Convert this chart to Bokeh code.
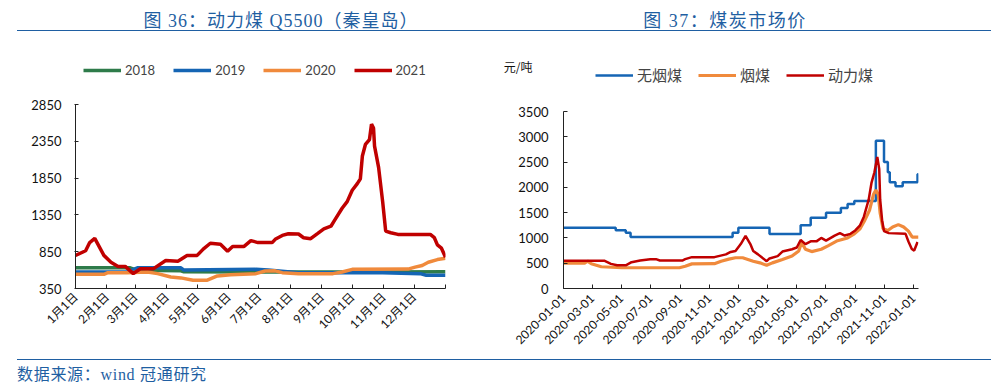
import math
import pandas as pd
from bokeh.plotting import figure
from bokeh.layouts import row, column
from bokeh.models import (Range1d, FixedTicker, Legend, LegendItem, LinearAxis, Div)
from bokeh.embed import file_html
from bokeh.resources import INLINE

# ---------------- data: 图36 动力煤 Q5500（秦皇岛）, x = day of year ----------------
month_ticks = [0, 31, 59, 90, 120, 151, 181, 212, 243, 273, 304, 334, 365]
month_labels = ["1月1日", "2月1日", "3月1日", "4月1日", "5月1日", "6月1日", "7月1日",
                "8月1日", "9月1日", "10月1日", "11月1日", "12月1日", ""]

day_2018 = [0, 54, 61, 104, 107, 182, 300, 365]
val_2018 = [631, 631, 597, 590, 576, 574, 575, 576]

day_2019 = [0, 51, 61, 104, 107, 178, 190, 220, 303, 340, 346, 365]
val_2019 = [574, 574, 631, 631, 600, 610, 600, 565, 565, 552, 530, 530]

day_2020 = [0, 28, 32, 51, 71, 81, 94, 104, 116, 130, 140, 153, 178, 187, 197, 204,
            220, 254, 263, 273, 328, 335, 342, 348, 357, 365]
val_2020 = [543, 543, 565, 565, 574, 552, 507, 494, 463, 463, 521, 537, 552, 587, 590, 565,
            552, 552, 574, 610, 614, 640, 663, 707, 743, 760]

day_2021 = [0, 10, 14, 19, 28, 35, 42, 49, 57, 64, 77, 89, 101, 110, 120, 126, 133, 143,
            150, 155, 166, 173, 180, 194, 197, 204, 210, 220, 225, 232, 239, 245, 252, 256,
            263, 268, 273, 278, 281, 283, 286, 290, 292, 294, 295, 299, 303, 306, 311, 318,
            350, 354, 357, 361, 365]
val_2021 = [800, 863, 974, 1030, 800, 707, 650, 650, 552, 618, 620, 730, 720, 797, 800, 885,
            965, 950, 855, 920, 920, 1000, 974, 974, 1018, 1071, 1094, 1090, 1040, 1027, 1098,
            1160, 1196, 1285, 1440, 1530, 1685, 1775, 1840, 2150, 2307, 2374, 2583, 2530, 2285,
            1996, 1530, 1130, 1107, 1085, 1085, 1040, 943, 898, 774]

y1_ticks = [350, 850, 1350, 1850, 2350, 2850]

# ---------------- data: 图37 煤炭市场价 ----------------
anth_dates = ["2020-01-01", "2020-04-19", "2020-05-10", "2020-05-20", "2020-12-19",
              "2020-12-31", "2021-03-06", "2021-05-10", "2021-05-31", "2021-07-02",
              "2021-08-02", "2021-08-16", "2021-08-30", "2021-10-14", "2021-10-31",
              "2021-11-08", "2021-11-12", "2021-11-24", "2021-12-09", "2022-01-09",
              "2022-01-11"]
anth_vals = [1200, 1150, 1100, 1020, 1100, 1200, 1080, 1250, 1400, 1500, 1590, 1670, 1730,
             2920, 2500, 2300, 2100, 2020, 2100, 2260, 2260]

bit_dates = ["2020-01-01", "2020-02-14", "2020-02-20", "2020-02-28", "2020-03-20",
             "2020-05-02", "2020-08-30", "2020-09-11", "2020-09-25", "2020-11-11",
             "2020-11-25", "2020-12-11", "2020-12-25", "2021-01-09", "2021-01-31",
             "2021-02-14", "2021-02-28", "2021-03-12", "2021-04-02", "2021-04-22",
             "2021-05-06", "2021-05-12", "2021-05-20", "2021-06-02", "2021-06-22",
             "2021-07-06", "2021-07-26", "2021-08-16", "2021-08-30", "2021-09-11",
             "2021-09-21", "2021-10-01", "2021-10-09", "2021-10-14", "2021-10-19",
             "2021-10-23", "2021-10-29", "2021-11-08", "2021-11-18", "2021-11-30",
             "2021-12-11", "2021-12-21", "2021-12-29", "2022-01-11"]
bit_vals = [500, 500, 540, 490, 430, 410, 410, 440, 487, 490, 540, 580, 608, 608, 540, 507,
            459, 507, 574, 641, 742, 912, 777, 730, 777, 844, 945, 1000, 1081, 1182, 1351,
            1553, 1858, 1950, 1858, 1487, 1182, 1148, 1216, 1263, 1216, 1135, 1014, 1014]

steam_dates = ["2020-01-01", "2020-03-26", "2020-04-09", "2020-04-22", "2020-05-10",
               "2020-05-22", "2020-06-09", "2020-06-30", "2020-07-12", "2020-07-20",
               "2020-09-05", "2020-09-11", "2020-09-25", "2020-11-11", "2020-12-05",
               "2020-12-15", "2020-12-25", "2021-01-05", "2021-01-15", "2021-01-25",
               "2021-01-31", "2021-02-10", "2021-02-28", "2021-03-06", "2021-03-23",
               "2021-04-02", "2021-04-22", "2021-05-02", "2021-05-10", "2021-05-20",
               "2021-05-31", "2021-06-12", "2021-06-22", "2021-07-02", "2021-07-20",
               "2021-07-31", "2021-08-10", "2021-08-22", "2021-09-01", "2021-09-11",
               "2021-09-19", "2021-09-29", "2021-10-05", "2021-10-11", "2021-10-17",
               "2021-10-21", "2021-10-23", "2021-10-27", "2021-10-31", "2021-11-10",
               "2021-12-15", "2021-12-21", "2021-12-28", "2022-01-02", "2022-01-09"]
steam_vals = [550, 550, 487, 459, 459, 520, 553, 580, 580, 553, 553, 580, 620, 620, 675,
              722, 742, 878, 1040, 878, 742, 675, 540, 594, 641, 730, 777, 811, 959, 878,
              932, 932, 1000, 946, 1047, 1095, 1047, 1081, 1148, 1250, 1420, 1756, 2095,
              2298, 2602, 2365, 1756, 1351, 1135, 1095, 1081, 930, 780, 750, 920]

date_ticks = ["2020-01-01", "2020-03-01", "2020-05-01", "2020-07-01", "2020-09-01",
              "2020-11-01", "2021-01-01", "2021-03-01", "2021-05-01", "2021-07-01",
              "2021-09-01", "2021-11-01", "2022-01-01"]
y2_ticks = [0, 500, 1000, 1500, 2000, 2500, 3000, 3500]
unit_label = "元/吨"

# ---------------- styles / geometry ----------------
BLUE_T = "#1F5FA2"
C_GREEN = "#2E7B4A"
C_BLUE = "#1565B4"
C_ORANGE = "#F08A3C"
C_RED = "#C00000"
TICK_FONT = "Lato, Noto Sans CJK SC"
CJK_FONT = "Noto Sans CJK SC"
TITLE_CSS = "font-family:'Liberation Serif','Noto Sans CJK SC',serif;color:%s;" % BLUE_T

FIG_H = 327          # both chart figures (row aligns their borders)
TOP_B = 18           # frame top at 50 px on the page (legend sits inside the frame)
BOT_B = 71           # frame bottom (x axis) at 288 px on the page
FRAME_TOP, FRAME_BOT = 32 + TOP_B, 32 + FIG_H - BOT_B


def top_value(v_lo, v_hi, px_hi):
    """value at the frame top so that v_hi sits at page pixel px_hi"""
    per_px = (v_hi - v_lo) / (FRAME_BOT - px_hi)
    return v_hi + (px_hi - FRAME_TOP) * per_px


def style_axes(p, tick_in_y, tick_out_y, y_standoff, x_standoff):
    p.outline_line_color = None
    p.grid.visible = False
    p.border_fill_color = "white"
    p.background_fill_color = "white"
    for ax in (p.xaxis[0], p.yaxis[0]):
        ax.axis_line_color = "#222222"
        ax.major_tick_line_color = "#222222"
        ax.minor_tick_line_color = None
        ax.major_label_text_font = TICK_FONT
        ax.major_label_text_font_size = "13px"
        ax.major_label_text_color = "#111111"
    p.yaxis[0].major_tick_in = tick_in_y
    p.yaxis[0].major_tick_out = tick_out_y
    p.yaxis[0].major_label_standoff = y_standoff
    p.xaxis[0].major_tick_in = 4
    p.xaxis[0].major_tick_out = 0
    p.xaxis[0].major_label_standoff = x_standoff
    p.xaxis[0].major_label_orientation = math.pi / 4
    p.xaxis[0].major_label_text_font_size = "12px"


def header_div(width, line_left, line_width, title, center_x, spacing):
    html = (
        '<div style="position:relative;width:%dpx;height:32px;">'
        '<div style="position:absolute;left:%dpx;top:30px;width:%dpx;height:1px;background:%s;"></div>'
        '<div style="position:absolute;left:%dpx;top:11px;transform:translateX(-50%%);white-space:nowrap;'
        'font-size:18px;line-height:20px;letter-spacing:%.1fpx;%s">%s</div></div>'
        % (width, line_left, line_width, BLUE_T, center_x, spacing, TITLE_CSS, title))
    return Div(text=html, width=width, height=32, margin=0)


def footer_div(width, line_left, line_width, text):
    html = (
        '<div style="position:relative;width:%dpx;height:28px;">'
        '<div style="position:absolute;left:%dpx;top:0px;width:%dpx;height:1px;background:%s;"></div>'
        '<div style="position:absolute;left:%dpx;top:7px;white-space:nowrap;font-size:16px;'
        'line-height:18px;letter-spacing:0.7px;%s">%s</div></div>'
        % (width, line_left, line_width, BLUE_T, line_left, TITLE_CSS, text))
    return Div(text=html, width=width, height=28, margin=0)


# ---------------- left chart ----------------
p1 = figure(width=500, height=FIG_H, title=None, x_range=Range1d(0, 365),
            y_range=Range1d(350, top_value(350, 2850, 104)),
            output_backend="svg", toolbar_location=None,
            min_border_left=75, min_border_right=55, min_border_top=TOP_B, min_border_bottom=BOT_B)
r18 = p1.line(day_2018, val_2018, line_color=C_GREEN, line_width=3.5)
r19 = p1.line(day_2019, val_2019, line_color=C_BLUE, line_width=3.5)
r20 = p1.line(day_2020, val_2020, line_color=C_ORANGE, line_width=3.5)
r21 = p1.line(day_2021, val_2021, line_color=C_RED, line_width=3.5)
style_axes(p1, 3, 1, 13, 6)
p1.xaxis[0].ticker = FixedTicker(ticks=month_ticks)
p1.xaxis[0].major_label_overrides = {t: l for t, l in zip(month_ticks, month_labels)}
p1.yaxis[0].ticker = FixedTicker(ticks=y1_ticks)
p1.yaxis[0].bounds = (y1_ticks[0], y1_ticks[-1])

leg1 = Legend(items=[LegendItem(label="2018", renderers=[r18]),
                     LegendItem(label="2019", renderers=[r19]),
                     LegendItem(label="2020", renderers=[r20]),
                     LegendItem(label="2021", renderers=[r21])],
              orientation="horizontal", location=(8, FRAME_BOT - 80), glyph_width=38,
              glyph_height=20, label_height=20, label_standoff=4, spacing=18, padding=0,
              margin=0, border_line_color=None, background_fill_alpha=0,
              label_text_font=TICK_FONT, label_text_font_size="13px")
p1.add_layout(leg1)

# ---------------- right chart ----------------
anth_x = pd.to_datetime(anth_dates)
bit_x = pd.to_datetime(bit_dates)
steam_x = pd.to_datetime(steam_dates)
tick_ms = [float(t.value // 10**6) for t in pd.to_datetime(date_ticks)]

y2_top = top_value(0, 3500, 111)
p2 = figure(width=495, height=FIG_H, title=None, x_axis_type="datetime",
            x_range=Range1d(pd.Timestamp(date_ticks[0]), max(anth_x)),
            y_range=Range1d(0, y2_top),
            output_backend="svg", toolbar_location=None,
            min_border_left=53, min_border_right=77, min_border_top=TOP_B, min_border_bottom=BOT_B)
ra = p2.step(anth_x, anth_vals, mode="after", line_color=C_BLUE, line_width=2.5)
rb = p2.line(bit_x, bit_vals, line_color=C_ORANGE, line_width=3.2)
rc = p2.line(steam_x, steam_vals, line_color=C_RED, line_width=2.5)
style_axes(p2, 4, 0, 15, 8)
p2.xaxis[0].ticker = FixedTicker(ticks=tick_ms)
p2.xaxis[0].major_label_overrides = {m: s for m, s in zip(tick_ms, date_ticks)}
p2.yaxis[0].ticker = FixedTicker(ticks=y2_ticks)
p2.yaxis[0].bounds = (y2_ticks[0], y2_ticks[-1])

# unit text "元/吨" shown as the single label of a second (line-less) left axis
unit_val = 3500 + (111 - 66) * (3500 / (FRAME_BOT - 111))
unit_axis = LinearAxis(ticker=FixedTicker(ticks=[unit_val]),
                       major_label_overrides={unit_val: unit_label},
                       axis_line_color=None, major_tick_line_color=None,
                       minor_tick_line_color=None, major_label_standoff=-23,
                       major_label_text_font=CJK_FONT, major_label_text_font_size="12px",
                       major_label_text_color="#111111")
p2.add_layout(unit_axis, "left")

leg2 = Legend(items=[LegendItem(label="无烟煤", renderers=[ra]),
                     LegendItem(label="烟煤", renderers=[rb]),
                     LegendItem(label="动力煤", renderers=[rc])],
              orientation="horizontal", location=(32, FRAME_BOT - 85), glyph_width=38,
              glyph_height=20, label_height=20, label_standoff=4, spacing=16, padding=0,
              margin=0, border_line_color=None, background_fill_alpha=0,
              label_text_font=CJK_FONT, label_text_font_size="15px")
p2.add_layout(leg2)

# ---------------- layout ----------------
left = column(header_div(500, 17, 483, "图 36：动力煤 Q5500（秦皇岛）", 281, 1.0), p1,
              footer_div(500, 17, 483, "数据来源：wind 冠通研究"))
right = column(header_div(495, 0, 491, "图 37：煤炭市场价", 225, 1.5), p2,
               footer_div(495, 0, 491, ""))
layout = row(left, right)

open("out.html", "w").write(file_html(layout, INLINE))
